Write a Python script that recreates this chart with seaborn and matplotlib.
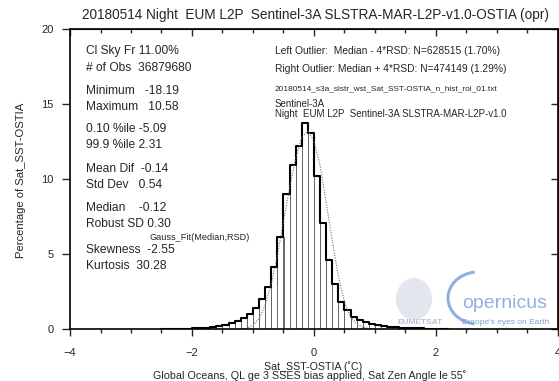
import numpy as np
import pandas as pd
import matplotlib
matplotlib.use('Agg')
import matplotlib.pyplot as plt
import seaborn as sns
from matplotlib.ticker import MultipleLocator
from matplotlib.patches import Arc, Ellipse

# histogram: left edge of each 0.1 degC bin and percentage of observations
bin_left = [-2.5, -2.4, -2.3, -2.2, -2.1, -2.0, -1.9, -1.8, -1.7, -1.6, -1.5, -1.4,
            -1.3, -1.2, -1.1, -1.0, -0.9, -0.8, -0.7, -0.6, -0.5, -0.4, -0.3,
            -0.2, -0.1, 0.0, 0.1, 0.2, 0.3, 0.4, 0.5, 0.6, 0.7, 0.8, 0.9, 1.0,
            1.1, 1.2, 1.3, 1.4, 1.5, 1.6, 1.7, 1.8, 1.9, 2.0, 2.1]
pct = [0.01, 0.015, 0.02, 0.025, 0.03, 0.045, 0.06, 0.09, 0.13, 0.19, 0.27, 0.38,
       0.53, 0.71, 1.0, 1.38, 2.0, 2.8, 4.16, 6.1, 9.0, 10.9, 12.2,
       13.76, 13.04, 10.2, 7.04, 4.6, 3.0, 1.82, 1.25, 0.82, 0.6, 0.44, 0.33, 0.25,
       0.19, 0.15, 0.12, 0.09, 0.07, 0.055, 0.04, 0.03, 0.02, 0.015, 0.01]

# dotted Gauss_Fit(Median,RSD) curve
gauss_x = [-1.2, -1.1, -1.0, -0.9, -0.8, -0.7, -0.6, -0.5, -0.4, -0.3, -0.2, -0.1,
           0.0, 0.1, 0.2, 0.3, 0.4, 0.5, 0.6, 0.7, 0.8, 0.9, 1.0]
gauss_y = [0.02, 0.05, 0.25, 0.7, 1.6, 3.0, 4.9, 7.2, 9.4, 11.4, 12.8, 13.2,
           12.5, 10.9, 8.4, 5.9, 3.5, 1.8, 0.8, 0.35, 0.12, 0.03, 0.01]

stats_lines = ['Cl Sky Fr 11.00%', '# of Obs  36879680',
               'Minimum   -18.19', 'Maximum   10.58',
               '0.10 %ile -5.09', '99.9 %ile 2.31',
               'Mean Dif  -0.14', 'Std Dev   0.54',
               'Median    -0.12', 'Robust SD 0.30',
               'Skewness  -2.55', 'Kurtosis  30.28']
stats_y = [51, 68, 91, 107, 129, 145, 169, 185, 208, 224, 250, 266]

title = '20180514 Night  EUM L2P  Sentinel-3A SLSTRA-MAR-L2P-v1.0-OSTIA (opr)'
outlier_left = 'Left Outlier:  Median - 4*RSD: N=628515 (1.70%)'
outlier_right = 'Right Outlier: Median + 4*RSD: N=474149 (1.29%)'
file_name = '20180514_s3a_slstr_wst_Sat_SST-OSTIA_n_hist_roi_01.txt'
sensor = 'Sentinel-3A'
product = 'Night  EUM L2P  Sentinel-3A SLSTRA-MAR-L2P-v1.0'
xlabel1 = 'Sat_SST-OSTIA (\u02daC)'
xlabel2 = 'Global Oceans, QL ge 3 SSES bias applied, Sat Zen Angle le 55\u02da'
ylabel = 'Percentage of Sat_SST-OSTIA'

sns.set_style('white')
plt.rcParams['font.family'] = ['Liberation Sans', 'DejaVu Sans']

W, H = 559, 381
fig = plt.figure(figsize=(W / 100, H / 100), dpi=100)
ax = fig.add_axes([70 / W, 1 - 329 / H, 488 / W, 300 / H])
renderer = fig.canvas.get_renderer()


def px(x, y):
    return x / W, 1 - y / H


def fit_text(x, y, s, width, **kw):
    # size the text so that it spans about `width` pixels
    t = fig.text(*px(x, y), s, fontsize=10, **kw)
    bb = t.get_window_extent(renderer)
    w = bb.height if kw.get('rotation') == 90 else bb.width
    t.set_fontsize(10 * width / w)
    return t


df = pd.DataFrame({'sst': np.array(bin_left) + 0.05, 'pct': pct})
edges = list(bin_left) + [bin_left[-1] + 0.1]
sns.histplot(data=df, x='sst', weights='pct', bins=edges, element='bars',
             fill=False, color='0.4', linewidth=0.7, ax=ax)
sns.histplot(data=df, x='sst', weights='pct', bins=edges, element='step',
             fill=False, color='black', linewidth=1.5, ax=ax)
sns.lineplot(x=gauss_x, y=gauss_y, color='0.45', linestyle=(0, (1, 1.3)),
             linewidth=0.8, ax=ax)

ax.set_xlim(-4, 4)
ax.set_ylim(0, 20)
ax.xaxis.set_major_locator(MultipleLocator(2))
ax.xaxis.set_minor_locator(MultipleLocator(0.5))
ax.yaxis.set_major_locator(MultipleLocator(5))
ax.set_xlabel('')
ax.set_ylabel('')
ax.tick_params(axis='x', which='major', direction='out', length=5, width=1,
               pad=9, labelsize=8, bottom=True)
ax.tick_params(axis='x', which='minor', direction='out', length=3, width=1, bottom=True)
ax.tick_params(axis='y', which='major', direction='out', length=6, width=1,
               pad=6, labelsize=8, left=True)
for s in ax.spines.values():
    s.set_visible(True)
    s.set_color('black')
    s.set_linewidth(1.2)

top = ax.secondary_xaxis('top')
top.xaxis.set_major_locator(MultipleLocator(2))
top.xaxis.set_minor_locator(MultipleLocator(0.5))
top.tick_params(which='major', direction='in', length=5, width=1, labeltop=False)
top.tick_params(which='minor', direction='in', length=3, width=1)
right = ax.secondary_yaxis('right')
right.yaxis.set_major_locator(MultipleLocator(5))
right.tick_params(direction='in', length=5, width=1, labelright=False)

fit_text(316, 15, title, 470, ha='center', va='center')
fit_text(21, 180, ylabel, 156, ha='center', va='center', rotation=90)

# statistics block, one font size for all lines
ref = fit_text(86, stats_y[1], stats_lines[1], 106, ha='left', va='center')
size = ref.get_fontsize()
for line, yy in zip(stats_lines, stats_y):
    if line != stats_lines[1]:
        fig.text(*px(86, yy), line, fontsize=size, ha='left', va='center')
fit_text(149, 237, 'Gauss_Fit(Median,RSD)', 100, ha='left', va='center')

o1 = fit_text(275, 51, outlier_left, 225, ha='left', va='center')
osize = o1.get_fontsize()
fig.text(*px(275, 69), outlier_right, fontsize=osize, ha='left', va='center')
fit_text(275, 89, file_name, 222, ha='left', va='center')
fig.text(*px(275, 104), sensor, fontsize=osize * 0.95, ha='left', va='center')
fig.text(*px(275, 114), product, fontsize=osize * 0.95, ha='left', va='center')

fit_text(313, 367, xlabel1, 98, ha='center', va='center')
fit_text(310, 376, xlabel2, 310, ha='center', va='center')

# watermark logos
logo_blue = '#8fb2dd'
fig.patches.append(Ellipse(px(414, 299), 36 / W, 42 / H, transform=fig.transFigure,
                           facecolor='#e3e6ec', edgecolor='none', zorder=0))
fig.patches.append(Arc(px(478, 298), 60 / W, 52 / H, theta1=95, theta2=265,
                       transform=fig.transFigure, color=logo_blue, linewidth=2.2))
fig.text(*px(462, 304), 'opernicus', fontsize=14, color=logo_blue, ha='left', va='center')
fig.text(*px(462, 322), "Europe's eyes on Earth", fontsize=6, color='#7b9fd2',
         ha='left', va='center')
fig.text(*px(398, 323), 'EUMETSAT', fontsize=6, color='#b3c0d4', fontweight='bold',
         ha='left', va='center')

fig.savefig('out.png', dpi=100)
